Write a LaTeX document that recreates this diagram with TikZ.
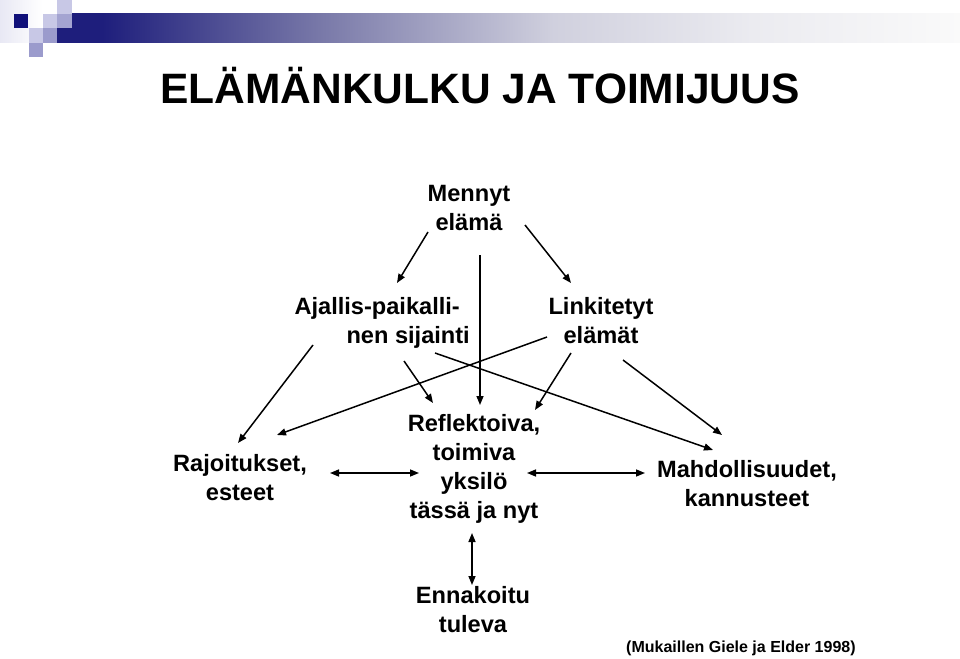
\documentclass[tikz,border=0pt]{standalone}
\usepackage{fontspec}
\setmainfont{Liberation Sans}
\usetikzlibrary{arrows.meta}
\definecolor{navyc}{RGB}{16,16,122}
\definecolor{barnavy}{RGB}{30,30,124}
\definecolor{barmid}{RGB}{120,120,168}
\definecolor{barlight}{RGB}{208,208,222}
\definecolor{barpale}{RGB}{235,235,240}
\definecolor{barend}{RGB}{250,250,250}
\definecolor{lavlight}{RGB}{200,200,230}
\definecolor{lavmid}{RGB}{155,155,204}
\definecolor{lavfaint}{RGB}{232,232,244}
\pgfdeclarehorizontalshading{barshade}{100bp}{color(0bp)=(barnavy); color(27.5bp)=(barnavy); color(39.5bp)=(barmid); color(52.5bp)=(barlight); color(63.5bp)=(barpale); color(75bp)=(barend); color(100bp)=(barend)}
\pgfdeclarehorizontalshading{edgeshade}{100bp}{color(0bp)=(lavfaint); color(25bp)=(lavfaint); color(75bp)=(white); color(100bp)=(white)}
\tikzset{
  lbl/.style={font=\bfseries\fontsize{23.6}{28.7}\selectfont, inner sep=0pt, align=center, anchor=base},
  conn/.style={line width=1.5pt, -{Triangle[length=9pt,width=7pt]}},
  dconn/.style={line width=1.5pt, {Triangle[length=9pt,width=7pt]}-{Triangle[length=9pt,width=7pt]}}
}
\begin{document}
\begin{tikzpicture}[x=1pt,y=-1pt]
\useasboundingbox (0,0) rectangle (960,658);
% decoration
\fill[shading=edgeshade] (0,0) rectangle (42,43);
\fill[shading=barshade] (57,14) rectangle (960,43);
\fill[navyc] (14,14) rectangle (28,28);
\fill[lavlight] (57,0) rectangle (72,14);
\fill[lavlight] (43,14) rectangle (57,28);
\fill[lavmid!80!lavlight] (57,14) rectangle (72,28);
\fill[lavlight] (29,28) rectangle (43,43);
\fill[lavmid] (43,28) rectangle (57,43);
\fill[lavmid] (29,43) rectangle (43,57);
% title
\node[font=\bfseries\fontsize{42.5}{50}\selectfont, inner sep=0pt, anchor=base] (title) at (480,104) {ELÄMÄNKULKU JA TOIMIJUUS};
% labels (anchored at the baseline of their last line)
\node[lbl] (mennyt) at (469,230) {Mennyt\\elämä};
\node[lbl, align=right, anchor=base east] (ajallis) at (470,343) {Ajallis-paikalli-\kern10pt\\nen sijainti};
\node[lbl] (linkit) at (601,343) {Linkitetyt\\elämät};
\node[lbl] (rajoit) at (240,500) {Rajoitukset,\\esteet};
\node[lbl] (reflek) at (474,518) {Reflektoiva,\\toimiva\\yksilö\\tässä ja nyt};
\node[lbl] (mahd) at (747,506) {Mahdollisuudet,\\kannusteet};
\node[lbl] (ennak) at (473,632) {Ennakoitu\\tuleva};
\node[font=\bfseries\fontsize{16}{19}\selectfont, inner sep=0pt, anchor=base west] (cite) at (626,652) {(Mukaillen Giele ja Elder 1998)};
% connector end points
\coordinate (m1) at (428,232); \coordinate (a0) at (397,283);
\coordinate (m2) at (480,255); \coordinate (r0) at (480,405);
\coordinate (m3) at (525,225); \coordinate (l0) at (571,283);
\coordinate (a1) at (313,345); \coordinate (ra1) at (238,443);
\coordinate (l1) at (547,337); \coordinate (ra2) at (277,435);
\coordinate (a2) at (404,361); \coordinate (r1) at (433,403);
\coordinate (l2) at (571,353); \coordinate (r2) at (535,410);
\coordinate (a3) at (435,353); \coordinate (md1) at (713,450);
\coordinate (l3) at (623,360); \coordinate (md2) at (722,435);
\coordinate (ra3) at (330,473); \coordinate (r3) at (419,473);
\coordinate (r4) at (527,473); \coordinate (md3) at (645,473);
\coordinate (r5) at (472,533); \coordinate (e0) at (472,585);
% connectors
\draw[conn] (m1) -- (a0);
\draw[conn] (m2) -- (r0);
\draw[conn] (m3) -- (l0);
\draw[conn] (a1) -- (ra1);
\draw[conn] (l1) -- (ra2);
\draw[conn] (a2) -- (r1);
\draw[conn] (l2) -- (r2);
\draw[conn] (a3) -- (md1);
\draw[conn] (l3) -- (md2);
\draw[dconn] (ra3) -- (r3);
\draw[dconn] (r4) -- (md3);
\draw[dconn] (r5) -- (e0);
\end{tikzpicture}
\end{document}
